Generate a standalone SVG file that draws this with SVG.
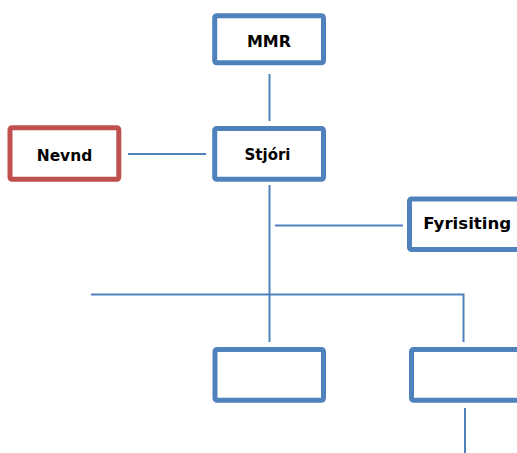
<svg xmlns="http://www.w3.org/2000/svg" width="517" height="453" viewBox="0 0 517 453">
<style>
.box{fill:#fff;stroke:#4F81BD;stroke-width:5}
.red{fill:#fff;stroke:#C0504D;stroke-width:5}
.ln{stroke:#4F81BD;stroke-width:2;fill:none}
.t{font-family:"DejaVu Sans",sans-serif;font-weight:bold;font-size:15px;fill:#000;text-anchor:middle}
</style>
<rect width="517" height="453" fill="#fff"/>
<g id="connectors">
<line class="ln" x1="269.5" y1="74" x2="269.5" y2="121"/>
<line class="ln" x1="128" y1="154" x2="206" y2="154"/>
<line class="ln" x1="269.5" y1="185" x2="269.5" y2="342"/>
<line class="ln" x1="275" y1="225.5" x2="403" y2="225.5"/>
<polyline class="ln" points="91,294.5 463.5,294.5 463.5,342"/>
<line class="ln" x1="465" y1="408" x2="465" y2="453"/>
</g>
<g id="mmr"><rect class="box" x="214.7" y="15.8" width="108.8" height="47" rx="2"/><text class="t" x="269" y="46.7" textLength="44" lengthAdjust="spacingAndGlyphs">MMR</text></g>
<g id="stjori"><rect class="box" x="214.7" y="128.5" width="108.8" height="50.7" rx="2"/><text class="t" x="267.5" y="159.5" textLength="46" lengthAdjust="spacingAndGlyphs">Stjóri</text></g>
<g id="nevnd"><rect class="red" x="10" y="127.7" width="108.8" height="51.5" rx="2"/><text class="t" x="64.5" y="160.7" textLength="55.6" lengthAdjust="spacingAndGlyphs">Nevnd</text></g>
<g id="fyrisiting"><rect class="box" x="409.5" y="199" width="130" height="50.5" rx="2"/><text class="t" x="467.2" y="229" textLength="88" lengthAdjust="spacingAndGlyphs">Fyrisiting</text></g>
<g id="box1"><rect class="box" x="215" y="349.5" width="108.5" height="50.8" rx="2"/></g>
<g id="box2"><rect class="box" x="411.5" y="349.5" width="130" height="50.8" rx="2"/></g>
</svg>
